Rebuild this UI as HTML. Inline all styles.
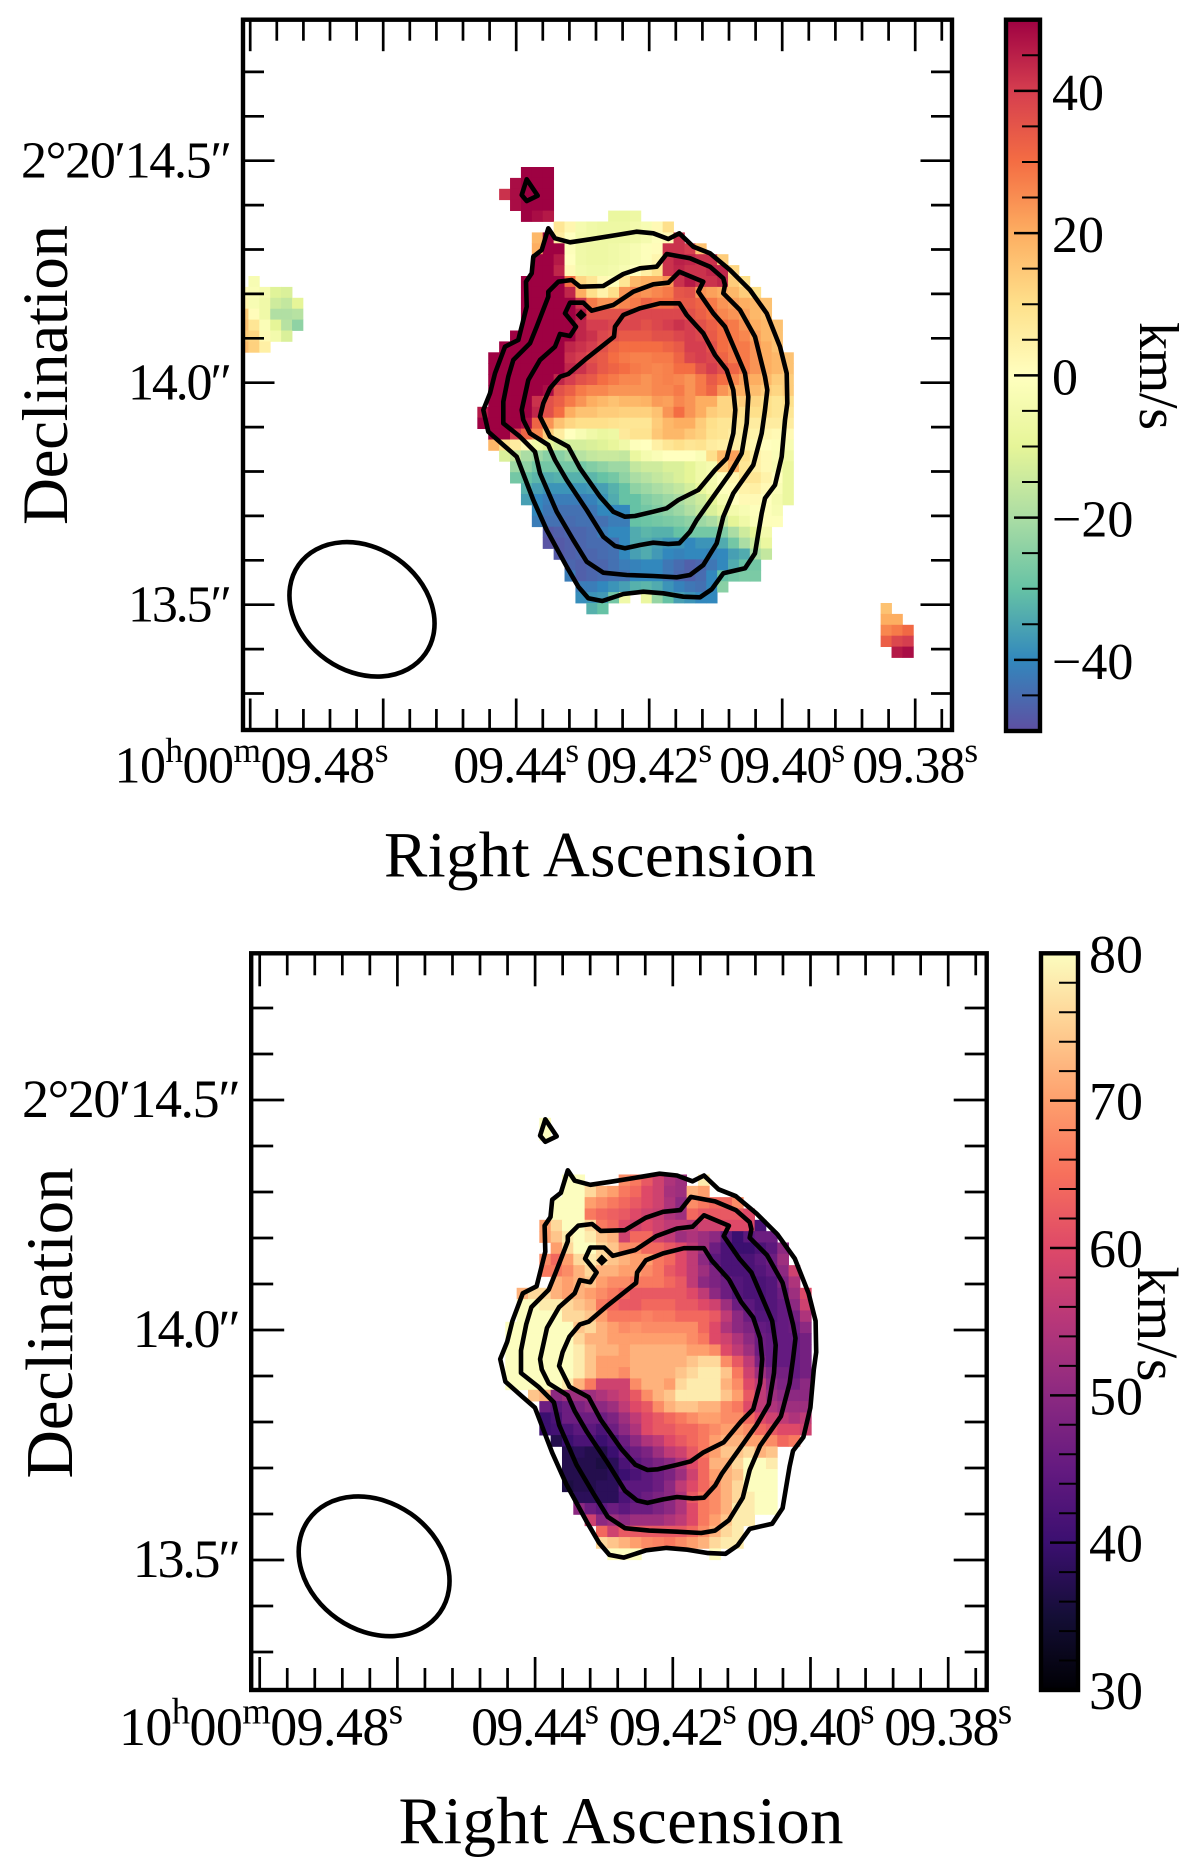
<!DOCTYPE html>
<html lang="en">
<head>
<meta charset="utf-8">
<title>Velocity and dispersion maps</title>
<style>
html,body{margin:0;padding:0;background:#fff}
svg{display:block}
text{font-family:"Liberation Serif",serif;fill:#000}
</style>
</head>
<body>
<svg id="figure" xmlns="http://www.w3.org/2000/svg" width="1200" height="1875" viewBox="0 0 1200 1875">
  <defs>
    <clipPath id="clip-top"><rect x="243" y="19.7" width="709" height="710.3"/></clipPath>
    <clipPath id="clip-bottom"><rect x="251.2" y="953.3" width="735.5" height="736.7"/></clipPath>
    <linearGradient id="grad-velocity" x1="0" y1="1" x2="0" y2="0"></linearGradient>
    <linearGradient id="grad-dispersion" x1="0" y1="1" x2="0" y2="0"></linearGradient>
  </defs>

  <g id="panel-top"></g>
  <g id="panel-bottom"></g>
  <g id="cbar-top"></g>
  <g id="cbar-bottom"></g>

  <text x="600" y="876.7" font-size="65" text-anchor="middle" textLength="432">Right Ascension</text>
  <text transform="translate(67,375) rotate(-90)" font-size="65" text-anchor="middle" textLength="300">Declination</text>
  <text transform="translate(1140,376) rotate(90)" font-size="56" text-anchor="middle" textLength="108">km/s</text>

  <text x="621" y="1843" font-size="67" text-anchor="middle" textLength="445">Right Ascension</text>
  <text transform="translate(72,1323) rotate(-90)" font-size="67" text-anchor="middle" textLength="311">Declination</text>
  <text transform="translate(1138,1324) rotate(90)" font-size="58" text-anchor="middle" textLength="115">km/s</text>
</svg>

<script>
const _ = null;

/* Line-of-sight velocity map (km/s), one row per beam-sampled image row */
const velocityRows = [
[_,_,_,_,50,50,50],
[_,_,_,48,50,50,50],
[_,_,42,48,50,50,50],
[_,_,_,48,50,50,50],
[_,_,_,_,50,48,46,_,_,_,_,_,-8,-8,-7],
[_,_,_,_,_,_,_,8,3,-4,-6,-7,-7,-7,-5,-3,2,10],
[_,_,_,_,_,18,50,6,0,-5,-6,-7,-7,-7,-6,-4,-1,2,42],
[_,_,_,_,_,20,50,50,-1,-6,-7,-7,-6,-5,-3,-1,1,42,42,40,16],
[_,_,_,_,_,50,50,46,0,-6,-7,-7,-6,-5,-3,-1,3,42,45,44,42,42,14],
[_,_,_,_,_,50,50,44,2,-5,-6,-6,-5,-3,0,5,10,42,44,42,42,44,44,12],
[_,_,_,_,50,50,50,50,30,12,8,2,-1,8,18,20,20,24,42,46,42,42,44,14,10],
[_,_,_,_,50,50,50,50,44,20,10,4,10,24,26,24,26,28,35,36,24,22,20,18,14,10],
[_,_,_,_,50,50,50,50,50,42,28,24,24,26,28,32,30,30,34,34,32,28,24,22,20,18,16],
[_,_,_,_,50,50,50,50,50,46,36,36,36,36,38,38,38,38,38,36,33,30,26,24,22,18,16],
[_,_,_,_,50,50,50,50,50,44,40,40,38,38,38,36,38,40,42,40,36,33,30,28,24,20,18,16],
[_,_,_,50,50,50,50,50,50,44,42,38,36,34,34,34,36,36,38,40,38,34,30,28,26,22,18,16],
[_,_,50,50,50,50,50,50,44,42,40,36,32,30,30,30,30,32,34,40,40,36,30,28,28,24,20,16],
[_,50,50,50,50,50,50,50,42,40,36,34,30,28,27,27,28,28,32,38,40,38,32,28,28,24,20,18,16],
[_,50,50,50,50,50,50,50,44,42,38,34,32,30,28,27,26,27,30,30,36,40,36,32,28,24,20,18,16],
[_,50,50,50,50,50,50,44,40,36,34,30,28,26,26,24,26,27,26,24,28,34,30,26,22,20,18,14,14],
[_,50,50,50,50,50,48,36,33,28,26,26,24,24,24,24,26,26,28,24,28,32,24,20,20,17,14,12,14],
[_,50,50,50,50,42,36,33,28,24,20,18,16,18,18,19,23,22,26,24,20,20,12,12,14,12,10,8,10],
[46,50,50,50,50,44,36,30,20,16,16,14,14,13,13,13,16,24,30,24,20,14,12,12,10,10,10,8,8],
[50,50,50,50,48,32,24,16,12,10,10,10,9,8,8,8,14,18,20,20,14,10,8,8,8,6,6,6,6],
[_,50,50,40,32,26,14,6,0,-3,-6,-8,-7,7,9,9,15,18,18,15,13,9,8,6,6,4,3,2,2],
[_,18,10,6,2,-6,-10,-13,-13,-13,-12,-11,-9,-6,-1,0,5,8,10,8,9,6,5,5,4,2,0,-1,-3],
[_,_,-12,-16,-20,-22,-25,-25,-22,-18,-16,-15,-15,-16,-8,-4,-2,0,0,0,-2,10,18,22,10,5,2,-2,-6],
[_,_,_,-22,-24,-28,-28,-28,-28,-28,-26,-24,-22,-22,-16,-14,-14,-12,-12,-10,-6,-4,14,20,8,5,2,-3,-8],
[_,_,_,-28,-30,-32,-34,-33,-33,-33,-32,-30,-28,-24,-20,-18,-16,-14,-12,-10,-6,-4,0,3,8,8,4,0,-8],
[_,_,_,_,-33,-36,-38,-38,-38,-38,-37,-36,-33,-30,-24,-22,-20,-18,-16,-13,-9,-5,-1,1,4,5,2,-2,-8],
[_,_,_,_,-36,-40,-42,-42,-42,-42,-41,-38,-34,-30,-30,-26,-24,-22,-20,-17,-14,-10,-4,0,2,2,0,-4,-8],
[_,_,_,_,_,-40,-43,-44,-44,-44,-43,-40,-40,-40,-30,-28,-26,-24,-22,-19,-16,-12,-8,-5,-3,-1,-1,-3],
[_,_,_,_,_,-42,-44,-44,-45,-44,-44,-44,-42,-42,-30,-29,-28,-27,-26,-24,-22,-20,-16,-10,-6,-2,-1,-1],
[_,_,_,_,_,_,-48,-47,-46,-46,-45,-42,-40,-40,-34,-32,-33,-33,-30,-28,-28,-28,-26,-20,-14,-10,-5],
[_,_,_,_,_,_,-49,-48,-47,-46,-45,-45,-44,-40,-34,-34,-36,-38,-38,-40,-38,-38,-34,-28,-20,-14,-8],
[_,_,_,_,_,_,_,-48,-47,-46,-46,-45,-44,-40,-36,-34,-37,-40,-41,-40,-40,-41,-40,-36,-34,-20,-16],
[_,_,_,_,_,_,_,_,-46,-47,-46,-46,-44,-42,-41,-40,-40,-43,-45,-47,-46,-43,-40,-34,-30,-28],
[_,_,_,_,_,_,_,_,-42,-47,-46,-45,-44,-44,-40,-40,-40,-43,-46,-47,-45,-40,-30,-28,-27,-27],
[_,_,_,_,_,_,_,_,_,-42,-42,-40,-38,-36,-33,-32,-34,-38,-41,-43,-44,-40,-25],
[_,_,_,_,_,_,_,_,_,-39,-38,-37,-28,-6,_,-8,-23,-30,-36,-38,-40,-40],
[_,_,_,_,_,_,_,_,_,_,-33,-30]
];

/* Small isolated velocity patch at the eastern edge of the map */
const westPatchVelocity = [
[_,-3],
[1,-2,-4,-11,-12],
[3,-3,-6,-14,-16,-10],
[14,1,-6,-19,-19,-18],
[16,8,-2,-10,-18,-24],
[14,12,2,-5,-12],
[17,13,5]
];

/* Small isolated velocity patch in the south-west of the map */
const southPatchVelocity = [
[16],
[20,20],
[26,28,31],
[33,38,40],
[_,46,48]
];

/* Velocity dispersion map (km/s) */
const dispersionRows = [
[],
[_,_,_,_,80],
[_,_,_,_,80],
[],
[],
[],
[_,_,_,_,_,_,80,80,_,_,_,68,66,62,58,54,52,_,78],
[_,_,_,_,_,_,80,80,76,72,70,66,64,60,58,53,52,72,70],
[_,_,_,_,_,80,80,80,70,68,66,64,62,60,58,54,50,68,66,64,64,68],
[_,_,_,_,_,80,80,80,66,64,63,62,60,58,57,54,52,64,62,62,62,62,60],
[_,_,_,_,70,76,80,80,76,66,64,60,58,60,58,56,56,55,58,58,60,60,60,42],
[_,_,_,_,70,74,78,80,78,74,72,58,64,64,58,56,52,54,52,50,44,40,44,46,46],
[_,_,_,_,_,70,76,80,80,76,74,68,68,64,64,62,60,56,52,46,42,40,40,42,44,50],
[_,_,_,_,68,64,70,76,78,76,74,72,70,70,66,64,60,56,50,44,42,42,42,44,46,52],
[_,_,_,_,66,66,68,72,76,72,72,70,70,68,66,62,60,56,52,48,42,42,42,43,45,50,58],
[_,_,_,_,_,72,70,72,74,70,68,68,66,66,66,64,62,56,50,48,46,43,42,42,43,48,54],
[_,_,72,76,76,72,70,72,70,68,66,64,62,62,62,62,62,60,56,50,46,43,42,42,43,46,52,60],
[_,_,80,80,78,78,76,74,72,66,64,62,62,64,64,64,62,62,60,58,52,46,44,42,43,45,50,58],
[_,_,80,80,80,80,76,76,74,70,66,66,66,67,66,66,64,64,64,62,56,50,46,43,43,45,47,54],
[_,80,80,80,80,80,80,74,76,72,70,68,69,68,68,68,68,68,64,60,54,50,48,45,44,45,46,50],
[_,80,80,80,80,80,80,76,72,72,70,70,70,70,70,70,70,68,66,60,58,54,50,46,45,45,45,47],
[_,80,80,80,80,80,80,78,74,72,72,70,72,72,72,72,72,70,70,68,60,56,52,46,45,45,45,47],
[_,80,80,80,80,80,80,78,74,70,70,70,72,72,72,72,72,74,76,76,68,62,56,48,45,45,45,47],
[_,80,80,80,80,80,80,78,74,70,70,68,72,72,72,72,74,76,78,78,74,66,58,52,48,47,45,47],
[_,80,80,80,80,80,78,72,66,58,58,58,68,72,72,70,76,78,78,78,72,68,60,56,50,48,47,50],
[_,_,_,74,72,50,52,52,52,54,56,58,62,68,72,74,78,78,78,78,74,70,62,56,52,50,50,50],
[_,_,_,_,46,44,46,48,50,50,52,56,60,62,68,72,74,74,72,72,68,66,60,56,54,52,52,52],
[_,_,_,_,40,42,46,46,46,46,48,52,56,60,62,64,66,68,70,70,68,68,64,60,58,56,54,56],
[_,_,_,_,40,41,42,44,44,42,46,50,54,60,62,62,64,64,66,68,70,70,68,64,62,60,60,58],
[_,_,_,_,_,37,40,42,42,40,42,46,50,54,56,60,62,64,66,70,72,72,70,70,68,64,66],
[_,_,_,_,_,_,37,38,37,37,40,44,46,48,52,56,58,62,66,70,74,74,76,72,74],
[_,_,_,_,_,_,37,37,37,36,38,42,44,46,48,50,54,60,64,72,72,76,80,80,78],
[_,_,_,_,_,_,37,37,37,37,38,40,42,44,46,48,52,58,64,70,72,74,80,80,80],
[_,_,_,_,_,_,36,37,37,38,38,44,44,44,46,50,56,60,64,68,72,76,80,80,80],
[_,_,_,_,_,_,_,38,38,38,38,42,44,46,48,50,54,62,66,68,72,76,78,80,80],
[_,_,_,_,_,_,_,50,46,44,46,44,46,46,48,50,54,60,66,68,72,78,78,80,80],
[_,_,_,_,_,_,_,_,58,50,52,50,52,52,52,54,56,60,66,70,74,78,78],
[_,_,_,_,_,_,_,_,_,64,58,62,62,62,62,62,62,64,68,72,76,78],
[_,_,_,_,_,_,_,_,_,76,74,72,70,68,67,66,68,70,72,76,78,78],
[_,_,_,_,_,_,_,_,_,_,80,80,80,_,_,_,_,_,_,80]
];

/* Intensity contours: [east-west, north-south] sky offsets in map units */
const contourOuter = [[325,235],[345,265],[390,277],[450,268],[530,255],[590,245],[640,250],[685,267],[718,250],[760,290],[810,310],[870,360],[930,420],[980,490],[1020,590],[1040,670],[1042,760],[1035,810],[1025,920],[1005,1005],[975,1045],[965,1090],[955,1150],[945,1210],[915,1255],[850,1270],[815,1318],[780,1342],[730,1340],[670,1330],[610,1325],[550,1332],[487,1353],[445,1345],[415,1310],[380,1250],[320,1140],[280,1050],[230,920],[190,885],[145,845],[130,780],[150,730],[165,670],[195,590],[235,570],[260,470],[258,395],[275,370],[280,320],[305,300]];
const contourSecond = [[190,755],[205,680],[220,630],[270,580],[290,530],[325,440],[325,425],[355,395],[395,390],[420,410],[490,408],[550,372],[600,355],[650,350],[680,312],[750,325],[810,350],[850,385],[855,405],[850,430],[900,480],[945,560],[975,680],[982,720],[975,780],[965,850],[940,945],[880,1030],[850,1100],[830,1180],[790,1245],[750,1275],[710,1282],[640,1278],[560,1275],[490,1268],[440,1235],[400,1170],[350,1085],[300,970],[285,905],[240,860],[190,820]];
const contourThird = [[245,780],[265,690],[300,630],[345,590],[360,552],[390,558],[408,530],[375,490],[390,458],[430,458],[455,482],[520,465],[580,425],[640,403],[685,398],[718,365],[790,395],[775,425],[820,490],[855,530],[885,600],[915,670],[925,740],[920,820],[905,910],[870,970],[820,1040],[770,1110],[750,1145],[718,1180],[685,1182],[640,1178],[600,1185],[555,1195],[525,1188],[490,1160],[440,1080],[380,990],[345,930],[325,885],[270,850],[250,810]];
const contourInner = [[300,800],[310,760],[330,715],[360,680],[385,672],[440,625],[522,560],[525,530],[550,495],[600,475],[660,460],[718,460],[740,495],[790,550],[825,615],[860,660],[880,720],[886,780],[880,850],[860,925],[825,960],[775,1020],[715,1050],[680,1075],[640,1085],[585,1098],[555,1100],[520,1085],[480,1040],[420,955],[385,890],[330,860],[310,820]];
const contourIsland = [[260,88],[293,137],[260,153],[245,135]];
const contourPeak = [[423,482],[436,495],[423,507],[411,495]];

/* Synthesised beam in map units: centre, semi-axes, position angle */
const beamCentre = [-234,1378];
const beamAxes = [232,185];
const beamAngle = [35];

/* Axis ticks */
const raMajorTicks = [9.48,9.46,9.44,9.42,9.40,9.38];
const raMajorLabels = ['10h00m09.48s','','09.44s','09.42s','09.40s','09.38s'];
const raMinorTicks = [9.476,9.472,9.468,9.464,9.456,9.452,9.448,9.444,9.436,9.432,9.428,9.424,9.416,9.412,9.408,9.404,9.396,9.392,9.388,9.384,9.376];
const decMajorTicks = [14.5,14.0,13.5];
const decMajorLabels = ['2°20′14.5″','14.0″','13.5″'];
const decMinorTicks = [14.7,14.6,14.4,14.3,14.2,14.1,13.9,13.8,13.7,13.6,13.4,13.3];

/* Colourbar ticks */
const velocityBarMajor = [-40,-20,0,20,40];
const velocityBarLabels = ['−40','−20','0','20','40'];
const velocityBarMinor = [-45,-35,-30,-25,-15,-10,-5,5,10,15,25,30,35,45];
const dispersionBarMajor = [30,40,50,60,70,80];
const dispersionBarLabels = ['30','40','50','60','70','80'];
const dispersionBarMinor = [32,34,36,38,42,44,46,48,52,54,56,58,62,64,66,68,72,74,76,78];

/* Colormaps */
const spectralStops = ['#5e4fa2','#3288bd','#66c2a5','#abdda4','#e6f598','#ffffbf','#fee08b','#fdae61','#f46d43','#d53e4f','#9e0142'];
const magmaStops = ['#000004','#140e36','#3b0f70','#641a80','#8c2981','#b73779','#de4968','#f7705c','#fe9f6d','#fecf92','#fcfdbf'];

const NS = 'http://www.w3.org/2000/svg';
function make(tag, attrs, parent) {
  const el = document.createElementNS(NS, tag);
  for (const k in attrs) el.setAttribute(k, attrs[k]);
  parent.appendChild(el);
  return el;
}
function hexRgb(h) { return [1,3,5].map(i => parseInt(h.substr(i,2),16)); }
function colorFor(stops, t) {
  t = Math.max(0, Math.min(1, t));
  const p = t * (stops.length - 1), i = Math.min(stops.length - 2, Math.floor(p)), f = p - i;
  const a = hexRgb(stops[i]), b = hexRgb(stops[i+1]);
  return 'rgb(' + a.map((v,n) => Math.round(v + (b[n]-v)*f)).join(',') + ')';
}
function fillGradient(id, stops) {
  const g = document.getElementById(id);
  stops.forEach((c,i) => make('stop', {offset: i/(stops.length-1), 'stop-color': c}, g));
}
fillGradient('grad-velocity', spectralStops);
fillGradient('grad-dispersion', magmaStops);

/* Add a text element whose h/m/s unit letters are raised */
function addSexagesimal(parent, str, x, y, size, width) {
  const t = make('text', {x: x, y: y, 'font-size': size, 'text-anchor': 'middle', textLength: width}, parent);
  const parts = str.split(/([hms])/);
  let raised = false;
  parts.forEach(p => {
    if (!p) return;
    const isUnit = /^[hms]$/.test(p);
    const ts = make('tspan', {}, t);
    if (isUnit) { ts.setAttribute('font-size', size*0.68); ts.setAttribute('dy', raised ? 0 : -size*0.4); raised = true; }
    else { if (raised) ts.setAttribute('dy', size*0.4); raised = false; }
    ts.textContent = p;
  });
  return t;
}

function drawPanel(cfg) {
  const root = document.getElementById(cfg.rootId);
  const xMap = u => cfg.mapX0 + (u - 112) * cfg.mapK;
  const yMap = v => cfg.mapY0 + (v - 51) * cfg.mapK;
  const cellSpan = 32.7;
  const xRa = s => cfg.raX + (9.48 - s) * cfg.raK;
  const yDec = d => cfg.decY + (14.5 - d) * cfg.decK;

  const image = make('g', {'clip-path': 'url(#' + cfg.clip + ')'}, root);
  
  
  cfg.grids.forEach(grid => {
    grid.rows.forEach((row, r) => {
      row.forEach((val, c) => {
        if (val === null) return;
        const u = 112 + (c + grid.col) * cellSpan, v = 51 + (r + grid.row) * cellSpan;
        const rect = make('rect', {
          x: xMap(u).toFixed(2), y: yMap(v).toFixed(2),
          width: (cellSpan * cfg.mapK + 0.4).toFixed(2), height: (cellSpan * cfg.mapK + 0.4).toFixed(2),
          fill: colorFor(cfg.stops, (val - cfg.vmin) / (cfg.vmax - cfg.vmin))
        }, image);
        
        
      });
    });
  });

  [contourOuter, contourSecond, contourThird, contourInner, contourIsland].forEach(line => {
    const path = make('polygon', {
      points: line.map(p => xMap(p[0]).toFixed(1) + ',' + yMap(p[1]).toFixed(1)).join(' '),
      fill: 'none', stroke: '#000', 'stroke-width': 4.6, 'stroke-linejoin': 'round'
    }, root);
    
    
  });
  const peak = make('polygon', {
    points: contourPeak.map(p => xMap(p[0]).toFixed(1) + ',' + yMap(p[1]).toFixed(1)).join(' '),
    fill: '#000', stroke: '#000', 'stroke-width': 2
  }, root);
  
  

  const bx = xMap(beamCentre[0]), by = yMap(beamCentre[1]);
  const beam = make('ellipse', {
    cx: bx, cy: by, rx: beamAxes[0]*cfg.mapK, ry: beamAxes[1]*cfg.mapK,
    transform: 'rotate(' + beamAngle[0] + ' ' + bx + ' ' + by + ')',
    fill: 'none', stroke: '#000', 'stroke-width': 4.6
  }, root);
  
  

  const ticks = make('g', {stroke: '#000', 'stroke-width': 2.7}, root);
  
  
  const tickLine = (x1,y1,x2,y2) => make('line', {x1,y1,x2,y2}, ticks);
  const raTick = (s, len) => {
    const x = xRa(s);
    tickLine(x, cfg.top, x, cfg.top + len);
    tickLine(x, cfg.bottom, x, cfg.bottom - len);
  };
  const decTick = (d, len) => {
    const y = yDec(d);
    tickLine(cfg.left, y, cfg.left + len, y);
    tickLine(cfg.right, y, cfg.right - len, y);
  };
  raMajorTicks.forEach(s => raTick(s, cfg.major));
  raMinorTicks.forEach(s => raTick(s, cfg.minor));
  decMajorTicks.forEach(d => decTick(d, cfg.major));
  decMinorTicks.forEach(d => decTick(d, cfg.minor));

  const frame = make('rect', {
    x: cfg.left, y: cfg.top, width: cfg.right - cfg.left, height: cfg.bottom - cfg.top,
    fill: 'none', stroke: '#000', 'stroke-width': 4.4
  }, root);
  
  

  raMajorTicks.forEach((s, i) => {
    const label = raMajorLabels[i];
    if (!label) return;
    const wide = label.length > 8;
    const width = wide ? cfg.wideLabel : cfg.shortLabel;
    const centre = wide ? cfg.wideCentre : xRa(s) + cfg.labelShift;
    const t = addSexagesimal(root, label, centre, cfg.raLabelY, cfg.labelSize, width);
    
    
  });
  decMajorTicks.forEach((d, i) => {
    const t = make('text', {
      x: cfg.decLabelX, y: yDec(d) + 17, 'font-size': cfg.labelSize, 'text-anchor': 'end',
      textLength: i === 0 ? cfg.longDec : cfg.shortDec
    }, root);
    t.textContent = decMajorLabels[i];
    
    
  });
}

function drawBar(cfg) {
  const root = document.getElementById(cfg.rootId);
  const y = v => cfg.bottom - (v - cfg.vmin) / (cfg.vmax - cfg.vmin) * (cfg.bottom - cfg.top);
  const bar = make('rect', {
    x: cfg.left, y: cfg.top, width: cfg.right - cfg.left, height: cfg.bottom - cfg.top,
    fill: 'url(#' + cfg.gradient + ')'
  }, root);
  
  
  const ticks = make('g', {stroke: '#000'}, root);
  
  
  cfg.majors.forEach(v => make('line', {x1: cfg.right - cfg.major, x2: cfg.right, y1: y(v), y2: y(v), 'stroke-width': 2.5}, ticks));
  cfg.minors.forEach(v => make('line', {x1: cfg.right - cfg.minor, x2: cfg.right, y1: y(v), y2: y(v), 'stroke-width': 2}, ticks));
  const frame = make('rect', {
    x: cfg.left, y: cfg.top, width: cfg.right - cfg.left, height: cfg.bottom - cfg.top,
    fill: 'none', stroke: '#000', 'stroke-width': 4.4
  }, root);
  
  
  cfg.majors.forEach((v, i) => {
    const t = make('text', {x: cfg.labelX, y: y(v) + cfg.labelDy, 'font-size': cfg.labelSize}, root);
    t.textContent = cfg.labels[i];
    
    
  });
}

drawPanel({
  rootId: 'panel-top', clip: 'clip-top', stops: spectralStops, vmin: -50, vmax: 50,
  grids: [
    {rows: velocityRows, col: 0, row: 0},
    {rows: westPatchVelocity, col: -22, row: 10},
    {rows: southPatchVelocity, col: 37, row: 40}
  ],
  mapX0: 477.33, mapY0: 167, mapK: 1/3,
  left: 243, right: 952, top: 19.7, bottom: 730,
  raX: 250.2, raK: 6650, decY: 160.7, decK: 444,
  major: 31.5, minor: 21,
  labelSize: 52, shortLabel: 126, wideLabel: 274, wideCentre: 251.5, labelShift: 0,
  raLabelY: 782.7, decLabelX: 232, longDec: 211, shortDec: 104
});
drawPanel({
  rootId: 'panel-bottom', clip: 'clip-bottom', stops: magmaStops, vmin: 30, vmax: 80,
  grids: [{rows: dispersionRows, col: 0, row: 0}],
  mapX0: 494, mapY0: 1106.5, mapK: 0.3465,
  left: 251.2, right: 986.7, top: 953.3, bottom: 1690,
  raX: 259.7, raK: 6885, decY: 1100, decK: 460,
  major: 33, minor: 22,
  labelSize: 54, shortLabel: 128, wideLabel: 284, wideCentre: 261, labelShift: 0,
  raLabelY: 1745, decLabelX: 240.7, longDec: 218.7, shortDec: 108
});
drawBar({
  rootId: 'cbar-top', gradient: 'grad-velocity', vmin: -50, vmax: 50,
  left: 1006, right: 1040, top: 19.7, bottom: 731,
  major: 26, minor: 18, majors: velocityBarMajor, minors: velocityBarMinor, labels: velocityBarLabels,
  labelX: 1052, labelDy: 19, labelSize: 52
});
drawBar({
  rootId: 'cbar-bottom', gradient: 'grad-dispersion', vmin: 30, vmax: 80,
  left: 1041, right: 1078, top: 953.3, bottom: 1690,
  major: 28, minor: 19, majors: dispersionBarMajor, minors: dispersionBarMinor, labels: dispersionBarLabels,
  labelX: 1089, labelDy: 19, labelSize: 54
});
</script>
</body>
</html>
